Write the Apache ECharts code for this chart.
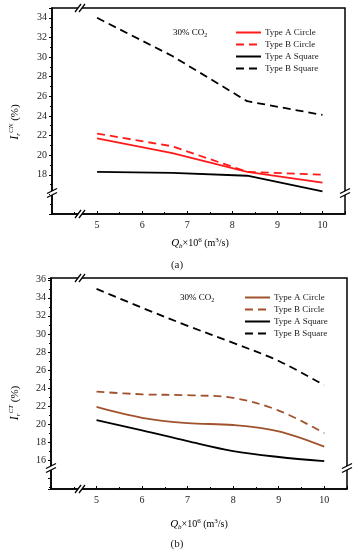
<!DOCTYPE html>
<html><head><meta charset="utf-8">
<script src="https://cdn.jsdelivr.net/npm/echarts@6/dist/echarts.min.js"></script>
<style>html,body{margin:0;padding:0;background:#fff}#c{width:356px;height:550px}</style>
</head><body><div id="c"></div>
<script>
// ---- data: panel (a) ----
const qA = [5, 6.67, 8.33, 10];
const aCircleA = [21.7, 20.2, 18.3, 17.2];
const bCircleA = [22.2, 20.9, 18.3, 18.0];
const aSquareA = [18.3, 18.2, 17.9, 16.3];
const bSquareA = [34.0, 30.1, 25.5, 24.1];
// ---- data: panel (b) ----
const qB = [5, 6, 7, 8, 9, 10];
const aCircleB = [21.9, 20.7, 20.1, 19.9, 19.2, 17.5];
const bCircleB = [23.6, 23.3, 23.2, 22.9, 21.5, 19.0];
const aSquareB = [20.45, 19.3, 18.1, 17.0, 16.35, 15.9];
const bSquareB = [35.0, 32.9, 30.9, 29.0, 27.0, 24.3];
const seriesNames = ['Type A Circle', 'Type B Circle', 'Type A Square', 'Type B Square'];
const yTicksA = [18, 20, 22, 24, 26, 28, 30, 32, 34];
const yTicksB = [16, 18, 20, 22, 24, 26, 28, 30, 32, 34, 36];
const xTicks = [5, 6, 7, 8, 9, 10];

const FONT = 'Liberation Serif';
const RED = '#ff1a1a', BROWN = '#a0522d', BLACK = '#000';
const zip = (xs, ys) => xs.map((x, i) => [x, ys[i]]);

function xAxisCfg(gi) {
  return {
    type: 'value', gridIndex: gi, min: 4, max: 10.5, interval: 1,
    axisLine: {lineStyle: {color: '#000', width: 1.5}},
    axisTick: {inside: true, length: 3, lineStyle: {color: '#000'}},
    minorTick: {show: true, splitNumber: 2, length: 2, lineStyle: {color: '#000'}},
    splitLine: {show: false},
    axisLabel: {fontFamily: FONT, fontSize: 10, color: '#222', margin: 6,
      formatter: v => xTicks.includes(v) ? String(v) : ''}
  };
}
function yAxisCfg(gi, min, max, ticks, extra) {
  return Object.assign({
    type: 'value', gridIndex: gi, min: min, max: max,
    axisLine: {lineStyle: {color: '#000', width: 1.5}},
    axisTick: {length: 3, lineStyle: {color: '#000'}},
    minorTick: {show: true, splitNumber: 2, length: 2, lineStyle: {color: '#000'}},
    splitLine: {show: false},
    axisLabel: {fontFamily: FONT, fontSize: 10, color: '#222', margin: 5,
      formatter: v => ticks.includes(Math.round(v * 100) / 100) ? String(v) : ''}
  }, extra);
}
function line(name, gi, xs, ys, color, dashed, smooth) {
  return {
    name: name, type: 'line', xAxisIndex: gi, yAxisIndex: gi,
    data: zip(xs, ys), symbol: 'none', smooth: smooth ? 0.35 : false,
    lineStyle: {color: color, width: 1.8, type: dashed ? [8, 5] : 'solid'},
    itemStyle: {color: color}, z: 3
  };
}
const namesB = seriesNames.map(n => n + ' ');

const xTitleRich = {
  q: {fontFamily: FONT, fontStyle: 'italic', fontSize: 11, color: '#222'},
  sub: {fontFamily: FONT, fontStyle: 'italic', fontSize: 7, color: '#222', padding: [6, 0, 0, 0]},
  sup: {fontFamily: FONT, fontSize: 7, color: '#222', padding: [0, 0, 6, 0]},
  n: {fontFamily: FONT, fontSize: 10, color: '#222'}
};
const xTitle = '{q|Q}{sub|b}{n|×10}{sup|6}{n| (m}{sup|3}{n|/s)}';
function yTitle(sup) {
  return '{q|I}{sub|r}{sup|' + sup + '}{n| (%)}';
}
const yTitleRich = {
  q: {fontFamily: FONT, fontStyle: 'italic', fontSize: 12, color: '#222'},
  sub: {fontFamily: FONT, fontStyle: 'italic', fontSize: 7, color: '#222', padding: [6, 0, 0, 0]},
  sup: {fontFamily: FONT, fontStyle: 'italic', fontSize: 7, color: '#222', padding: [0, 0, 8, 0]},
  n: {fontFamily: FONT, fontSize: 11, color: '#222'}
};
const coRich = {
  n: {fontFamily: FONT, fontSize: 9, color: '#222'},
  s: {fontFamily: FONT, fontSize: 6, color: '#222', padding: [5, 0, 0, 0]}
};

function breakMark(cx, cy, horizontal) {
  const els = [];
  els.push({type: 'rect', shape: {x: cx - 2, y: cy - 2, width: 4, height: 4}, style: {fill: '#fff'}, z: 100});
  if (horizontal) {
    [-2, 2].forEach(d => els.push({type: 'line', shape: {x1: cx + d - 3, y1: cy + 4, x2: cx + d + 3, y2: cy - 4},
      style: {stroke: '#000', lineWidth: 1.3}, z: 101}));
  } else {
    [-2, 2].forEach(d => els.push({type: 'line', shape: {x1: cx - 5, y1: cy + d + 2.5, x2: cx + 5, y2: cy + d - 2.5},
      style: {stroke: '#000', lineWidth: 1.3}, z: 101}));
  }
  return els;
}

const graphics = [].concat(
  breakMark(80, 8, true), breakMark(80, 214, true), breakMark(52, 193, false), breakMark(345, 193, false),
  breakMark(80, 278, true), breakMark(80, 489, true), breakMark(51, 468, false), breakMark(347, 468, false),
  [
    {type: 'text', x: 200, y: 243, style: {text: xTitle, rich: xTitleRich, align: 'center', verticalAlign: 'middle'}},
    {type: 'text', x: 177, y: 265, style: {text: '(a)', font: '11px "Liberation Serif"', fill: '#222', align: 'center', verticalAlign: 'middle'}},
    {type: 'text', x: 199, y: 524, style: {text: xTitle, rich: xTitleRich, align: 'center', verticalAlign: 'middle'}},
    {type: 'text', x: 177, y: 544, style: {text: '(b)', font: '11px "Liberation Serif"', fill: '#222', align: 'center', verticalAlign: 'middle'}},
    {type: 'text', x: 15, y: 122, rotation: Math.PI / 2, style: {text: yTitle('CN'), rich: yTitleRich, align: 'center', verticalAlign: 'middle'}},
    {type: 'text', x: 15, y: 403, rotation: Math.PI / 2, style: {text: yTitle('CT'), rich: yTitleRich, align: 'center', verticalAlign: 'middle'}},
    {type: 'text', x: 173, y: 33, style: {text: '{n|30% CO}{s|2}', rich: coRich, align: 'left', verticalAlign: 'middle'}},
    {type: 'text', x: 180, y: 298, style: {text: '{n|30% CO}{s|2}', rich: coRich, align: 'left', verticalAlign: 'middle'}}
  ]
);

const legendBase = {
  orient: 'vertical', itemWidth: 25, itemHeight: 10, itemGap: 3, padding: 0,
  itemStyle: {opacity: 0},
  textStyle: {fontFamily: FONT, fontSize: 9, color: '#222', padding: [0, 0, 0, -1]},
  formatter: n => n.trim(), selectedMode: false
};

const option = {
  animation: false,
  backgroundColor: '#fff',
  grid: [
    {left: 52, top: 8, width: 293, height: 206, show: true, borderColor: '#000', borderWidth: 1.5, backgroundColor: 'transparent'},
    {left: 51, top: 278, width: 296, height: 211, show: true, borderColor: '#000', borderWidth: 1.5, backgroundColor: 'transparent'}
  ],
  xAxis: [xAxisCfg(0), xAxisCfg(1)],
  yAxis: [
    yAxisCfg(0, 14, 35, yTicksA, {interval: 2}),
    yAxisCfg(1, 12.8, 36.2, yTicksB, {splitNumber: 12})
  ],
  legend: [
    Object.assign({left: 235, top: 28, data: seriesNames}, legendBase),
    Object.assign({left: 244, top: 293, data: namesB}, legendBase)
  ],
  graphic: graphics,
  series: [
    line(seriesNames[0], 0, qA, aCircleA, RED, false, false),
    line(seriesNames[1], 0, qA, bCircleA, RED, true, false),
    line(seriesNames[2], 0, qA, aSquareA, BLACK, false, false),
    line(seriesNames[3], 0, qA, bSquareA, BLACK, true, false),
    line(namesB[0], 1, qB, aCircleB, BROWN, false, true),
    line(namesB[1], 1, qB, bCircleB, BROWN, true, true),
    line(namesB[2], 1, qB, aSquareB, BLACK, false, true),
    line(namesB[3], 1, qB, bSquareB, BLACK, true, true)
  ]
};
const chart = echarts.init(document.getElementById('c'), null, {renderer: 'canvas'});
chart.setOption(option);
</script>
</body></html>
